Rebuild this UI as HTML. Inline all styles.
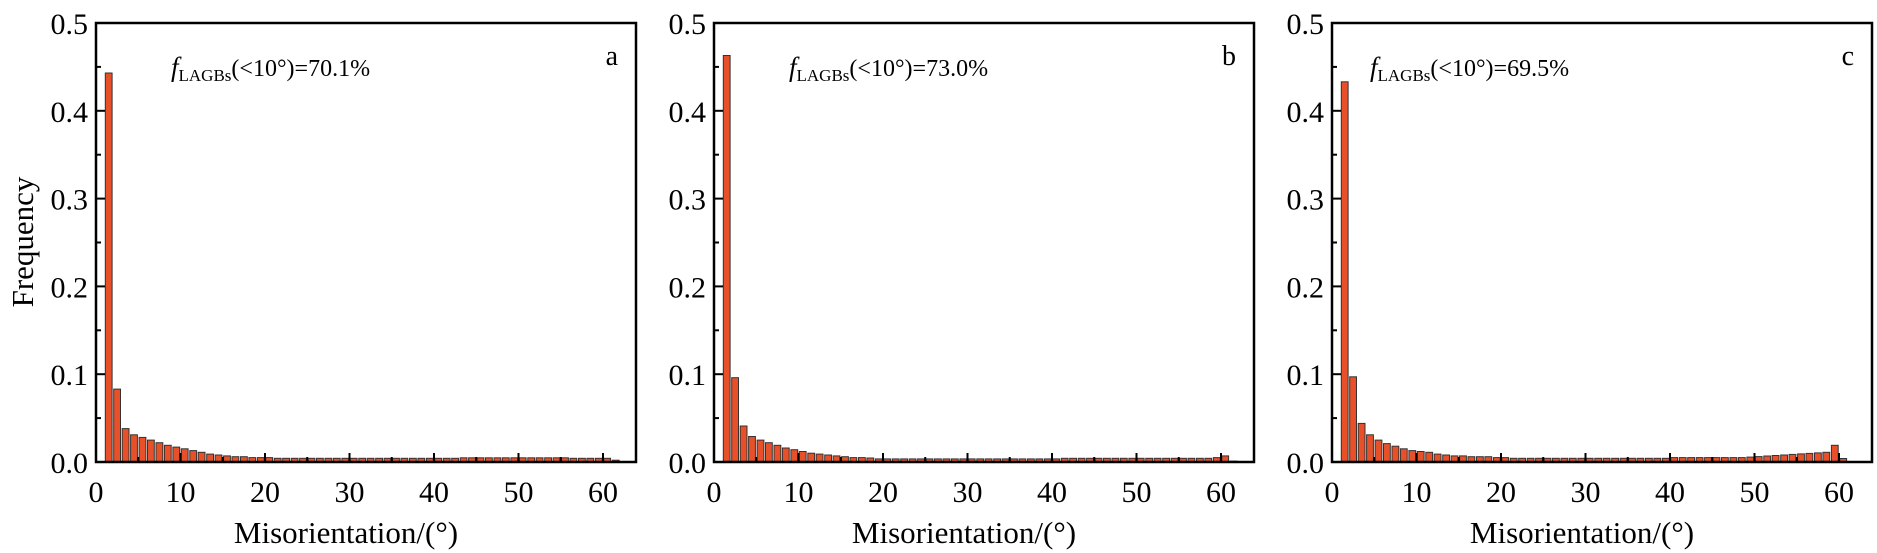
<!DOCTYPE html>
<html><head><meta charset="utf-8"><style>
html,body{margin:0;padding:0;background:#fff;}
svg{display:block;font-family:"Liberation Serif",serif;}
</style></head><body>
<svg id="s" width="1877" height="553" xmlns="http://www.w3.org/2000/svg"></svg>
<script>
(function(){
var A=[0.443,0.083,0.038,0.031,0.028,0.025,0.022,0.019,0.017,0.015,0.013,0.011,0.009,0.008,0.007,0.006,0.006,0.005,0.005,0.005];
while(A.length<60){var i=A.length+1;A.push(i>42&&i<56?0.0048:0.0042);} A.push(0.002);
var B=[0.463,0.096,0.041,0.029,0.025,0.022,0.019,0.016,0.014,0.012,0.010,0.009,0.008,0.007,0.006,0.005,0.005,0.0045];
while(B.length<58){var i=B.length+1;B.push(i>40?0.0042:0.0035);} B.push(0.005,0.007,0.001);
var C=[0.433,0.097,0.044,0.031,0.025,0.021,0.018,0.015,0.013,0.012,0.011,0.009,0.008,0.007,0.007,0.006,0.006,0.006,0.005,0.005];
while(C.length<58){var i=C.length+1;var v=i<40?0.0042:(i<48?0.005:0.005+(i-48)*0.0006);if(v>0.011)v=0.011;C.push(v);} C.push(0.019,0.004);
var panels=[{x:96,d:A,t:"70.1%",l:"a",tx:171},{x:714,d:B,t:"73.0%",l:"b",tx:789},{x:1332,d:C,t:"69.5%",l:"c",tx:1370}];
var T0=23,bot=462,W=540,u=8.45,h='';
function Y(v){return bot-v/0.5*(bot-T0);}
panels.forEach(function(p,k){
 var x0=p.x;
 p.d.forEach(function(v,i){var xi=x0+(i+1.1)*u;h+='<rect x="'+xi.toFixed(1)+'" y="'+Y(v).toFixed(1)+'" width="'+(u*0.8).toFixed(1)+'" height="'+(bot-Y(v)).toFixed(1)+'" fill="#e8502a" stroke="#333" stroke-width="1"/>';});
 h+='<rect x="'+x0+'" y="'+T0+'" width="'+W+'" height="'+(bot-T0)+'" fill="none" stroke="#000" stroke-width="2.5"/>';
 for(var t=0;t<=60;t+=5){var xx=x0+t*u;h+='<line x1="'+xx+'" y1="'+bot+'" x2="'+xx+'" y2="'+(bot-(t%10?5:9))+'" stroke="#000" stroke-width="2"/>';
  if(t%10==0)h+='<text x="'+xx+'" y="'+(bot+40)+'" font-size="30" text-anchor="middle">'+t+'</text>';}
 for(var j=0;j<=10;j++){var yy=Y(j*0.05);h+='<line x1="'+x0+'" y1="'+yy+'" x2="'+(x0+(j%2?5:9))+'" y2="'+yy+'" stroke="#000" stroke-width="2"/>';
  if(j%2==0)h+='<text x="'+(x0-8)+'" y="'+(yy+11)+'" font-size="30" text-anchor="end">'+(j*0.05).toFixed(1)+'</text>';}
 h+='<text x="'+(x0+W/2-20)+'" y="543" font-size="31" text-anchor="middle">Misorientation/(°)</text>';
 h+='<text x="'+(x0+W-18)+'" y="65" font-size="28" text-anchor="end">'+p.l+'</text>';
 h+='<text x="'+p.tx+'" y="76" font-size="24"><tspan font-style="italic" font-size="27">f</tspan><tspan font-size="17" dy="5">LAGBs</tspan><tspan dy="-5">(&lt;10°)=</tspan>'+p.t+'</text>';
});
h+='<text transform="translate(33,242) rotate(-90)" font-size="31" text-anchor="middle">Frequency</text>';
document.getElementById('s').innerHTML=h;
})();
</script>
</body></html>
